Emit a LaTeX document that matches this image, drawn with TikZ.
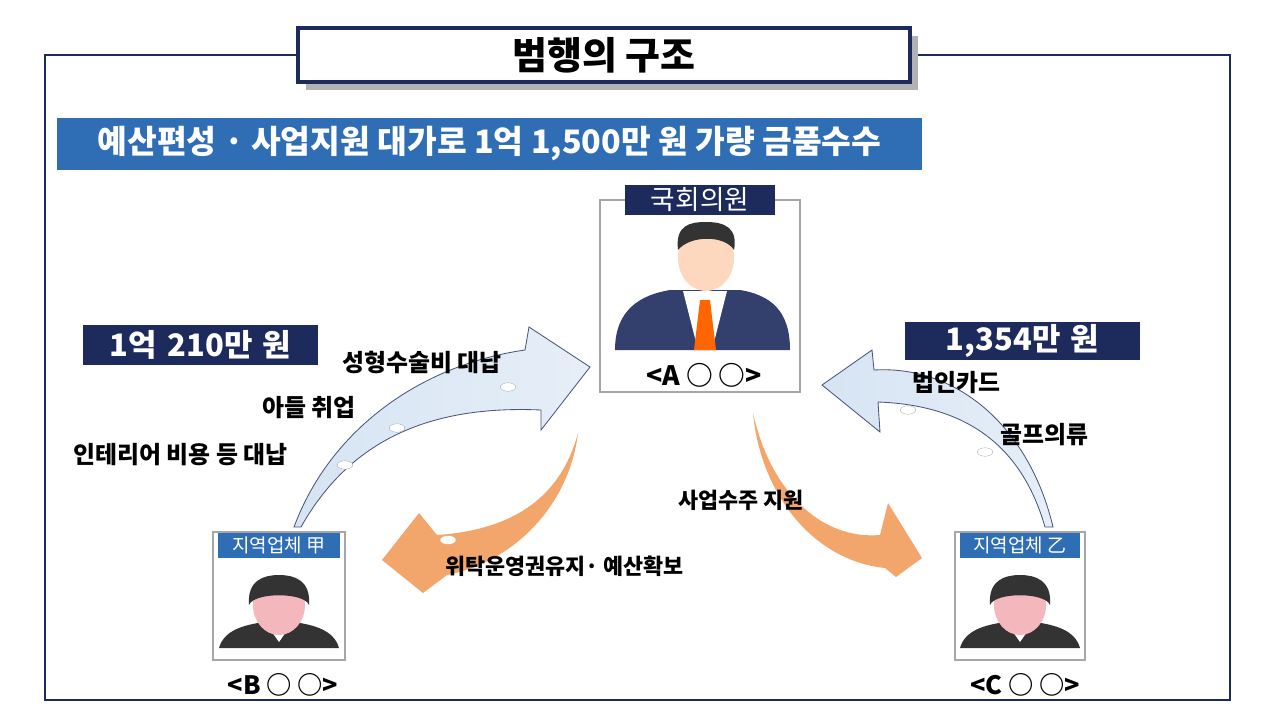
\documentclass[tikz,border=0pt]{standalone}
\usepackage{fontspec}
\setmainfont{Noto Sans CJK KR}
\usepackage{tikz}
\usetikzlibrary{
	calc,
	positioning,
	shapes,
	shadows,
}
\definecolor{navy}{HTML}{1C2A5C}
\definecolor{steel}{HTML}{2F6DB5}
\definecolor{skyarrow}{HTML}{D6E4F3}
\definecolor{orangearrow}{HTML}{F2A66B}
\definecolor{skin}{HTML}{F4B8BC}
\tikzset{
	sumbox/.style={fill=navy, text=white, font=\fontsize{44}{44}\selectfont\bfseries, inner sep=0pt, anchor=west, text width=11.75cm, align=center},
	gift/.style={font=\fontsize{34}{34}\selectfont\bfseries, anchor=west, inner sep=0pt},
	card/.style={draw=gray!70, fill=white, line width=1.5pt},
	cardhead/.style={fill=steel, text=white, font=\fontsize{27}{27}\selectfont, inner sep=0pt},
	dot/.style={ellipse, draw=gray!80, fill=white, minimum width=22pt, minimum height=12pt, inner sep=0pt},
	bluearrow/.style={draw=navy!80, line width=1.2pt, left color=skyarrow, right color=skyarrow!60},
	orangearr/.style={fill=orangearrow},
}
\begin{document}
\begin{tikzpicture}[x=0.05cm, y=-0.05cm]
\useasboundingbox (0,0) rectangle (1280,720);

% frame and title
\draw[navy, line width=2.5pt] (45,55) rectangle (1230,700);
\fill[gray!60] (306,36) rectangle (918,90);
\node[draw=navy, line width=6pt, fill=white, minimum width=612*0.05cm, minimum height=54*0.05cm,
	font=\fontsize{54}{54}\selectfont\bfseries] (title) at (604,55) {범행의 구조};
\node[fill=steel, text=white, minimum width=865*0.05cm, minimum height=52*0.05cm,
	font=\fontsize{46}{46}\selectfont\bfseries] (banner) at (489.5,144) {예산편성 · 사업지원 대가로 1억 1,500만 원 가량 금품수수};

% cards
\node[card, minimum width=200*0.05cm, minimum height=192*0.05cm] (cardA) at (700,296) {};
\node[fill=navy, text=white, minimum width=150*0.05cm, minimum height=30*0.05cm, inner sep=0pt,
	font=\fontsize{38}{38}\selectfont] (headA) at (700,200) {국회의원};
\node[font=\fontsize{38}{38}\selectfont\bfseries] (nameA) at (704,375) {<A ○ ○>};
\node[card, minimum width=132*0.05cm, minimum height=128*0.05cm] (cardB) at (279,596) {};
\node[cardhead, minimum width=122*0.05cm, minimum height=25*0.05cm] (headB) at (279,545) {지역업체 甲};
\node[font=\fontsize{36}{36}\selectfont\bfseries] (nameB) at (283,685) {<B ○ ○>};
\node[card, minimum width=130*0.05cm, minimum height=128*0.05cm] (cardC) at (1020,596) {};
\node[cardhead, minimum width=120*0.05cm, minimum height=25*0.05cm] (headC) at (1020,545) {지역업체 乙};
\node[font=\fontsize{36}{36}\selectfont\bfseries] (nameC) at (1025,685) {<C ○ ○>};

% person A
\fill[navy!90] (615,350) .. controls (615,310) and (640,295) .. (670,290) -- (740,290) .. controls (770,295) and (790,310) .. (790,350) -- cycle;
\fill[white] (683,291) -- (727,291) -- (712,350) -- (698,350) -- cycle;
\fill[orange!80!red] (700,300) -- (710,300) -- (716,350) -- (694,350) -- cycle;
\fill[skin!50!orange!40] (706,258) ellipse (28 and 33);
\fill[black!80] (678,250) .. controls (675,225) and (690,222) .. (706,222) .. controls (725,222) and (738,228) .. (734,250) .. controls (725,235) and (690,235) .. (678,250) -- cycle;

% persons B and C
\foreach \px in {279,1020}{
	\fill[black!80] (\px-60,648) .. controls (\px-55,630) and (\px-35,625) .. (\px-15,622) -- (\px+15,622) .. controls (\px+35,625) and (\px+55,630) .. (\px+60,648) -- cycle;
	\fill[white] (\px-14,622) -- (\px+14,622) -- (\px,642) -- cycle;
	\fill[skin] (\px,605) ellipse (26 and 30);
	\fill[black!80] (\px-30,605) .. controls (\px-32,580) and (\px-15,575) .. (\px,575) .. controls (\px+15,575) and (\px+32,580) .. (\px+30,605) .. controls (\px+25,592) and (\px-25,592) .. (\px-30,605) -- cycle;
}

% amounts
\node[sumbox, minimum height=40*0.05cm] (sumB) at (83,345) {1억 210만 원};
\node[sumbox, minimum height=38*0.05cm] (sumC) at (905,341) {1,354만 원};

% arrows
\path[bluearrow] (294,527) .. controls (330,430) and (420,365) .. (525,350) -- (529,327) -- (590,367) -- (541,430) -- (541,410) .. controls (430,405) and (350,440) .. (301,527) -- cycle;
\path[bluearrow] (1045,527) .. controls (1020,440) and (960,405) .. (878,402) -- (880,432) -- (822,385) -- (872,350) -- (874,370) .. controls (960,365) and (1030,430) .. (1053,527) -- cycle;
\path[orangearr] (578,433) .. controls (560,500) and (510,530) .. (437,535) -- (419,513) -- (382,560) -- (423,593) -- (447,575) .. controls (520,560) and (570,500) .. (578,433) -- cycle;
\path[orangearr] (753,413) .. controls (770,490) and (820,540) .. (880,535) -- (888,503) -- (922,558) -- (896,577) -- (885,568) .. controls (810,560) and (760,490) .. (753,413) -- cycle;
\foreach \dx/\dy in {345/465,397/428,508/387,908/410,985/452}{
	\node[dot] at (\dx,\dy) {};
}
\foreach \dx/\dy in {448/540,827/518}{
	\node[dot, draw=none] at (\dx,\dy) {};
}

% gifts
\node[gift] (surgery) at (342,362) {성형수술비 대납};
\node[gift] (job) at (262,408) {아들 취업};
\node[gift] (interior) at (73,455) {인테리어 비용 등 대납};
\node[gift] (card) at (912,383) {법인카드};
\node[gift] (golf) at (1000,435) {골프의류};
\node[gift, font=\fontsize{31}{31}\selectfont\bfseries] (project) at (678,500) {사업수주 지원};
\node[gift, font=\fontsize{31}{31}\selectfont\bfseries] (budget) at (445,566) {위탁운영권유지· 예산확보};

\end{tikzpicture}
\end{document}
